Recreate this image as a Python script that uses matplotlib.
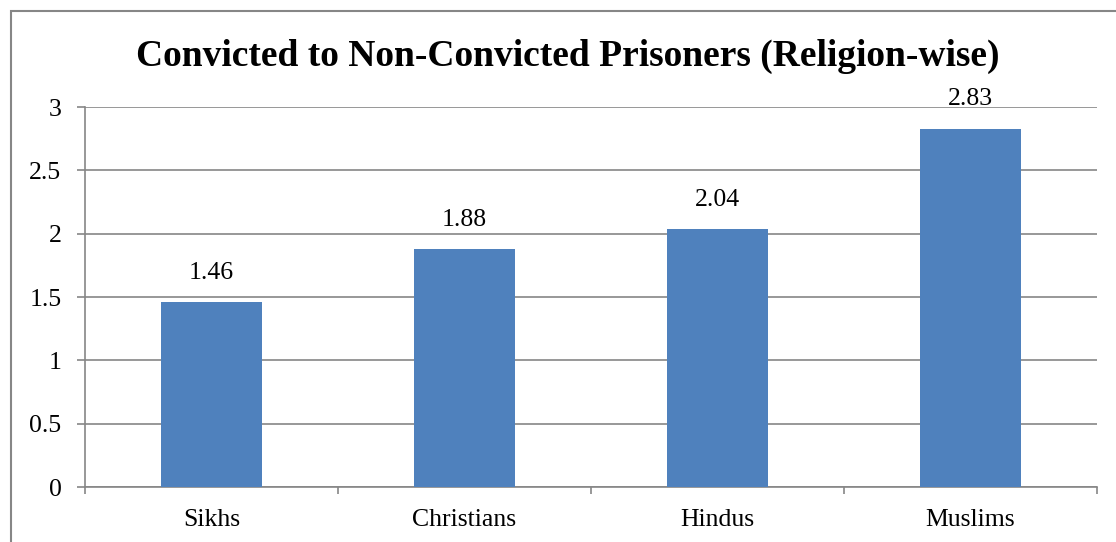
import matplotlib.pyplot as plt
from matplotlib.patches import Rectangle
import numpy as np

religions = ["Sikhs", "Christians", "Hindus", "Muslims"]
ratios = [1.46, 1.88, 2.04, 2.83]
y_ticks = [0, 0.5, 1, 1.5, 2, 2.5, 3]
y_tick_labels = ["0", "0.5", "1", "1.5", "2", "2.5", "3"]

plt.rcParams["font.family"] = ["Liberation Serif", "DejaVu Serif"]
grey = "#868686"

fig = plt.figure(figsize=(11.16, 5.42), dpi=100)
ax = fig.add_axes([85 / 1116, 1 - 487 / 542, (1097 - 85) / 1116, (487 - 107) / 542])

# chart border (runs off the right and bottom edges like the original)
fig.patches.append(Rectangle((11 / 1116, -0.1), 1.2, 1 - 11 / 542 + 0.1,
                             transform=fig.transFigure, fill=False,
                             edgecolor=grey, linewidth=1.5))

x = np.arange(len(religions))
bars = ax.bar(x, ratios, width=0.4, color="#4F81BD", zorder=3)

for xi, v in zip(x, ratios):
    ax.annotate(f"{v:.2f}", (xi, v), xytext=(0, 13), textcoords="offset points",
                ha="center", va="bottom", fontsize=18.5, zorder=4)

ax.set_xlim(-0.5, len(religions) - 0.5)
ax.set_ylim(0, 3)
ax.set_yticks(y_ticks)
ax.set_yticklabels(y_tick_labels)
ax.set_xticks(x)
ax.set_xticklabels(religions)
ax.set_xticks(np.arange(len(religions) + 1) - 0.5, minor=True)

ax.tick_params(axis="y", length=6, width=1.2, color=grey, labelsize=18.5, pad=11)
ax.tick_params(axis="x", which="major", length=0, labelsize=18.5, pad=16)
ax.tick_params(axis="x", which="minor", length=5, width=1.2, color=grey)

ax.grid(axis="y", color=grey, linewidth=1.2, zorder=0)
for side in ["top", "right"]:
    ax.spines[side].set_visible(False)
for side in ["left", "bottom"]:
    ax.spines[side].set_color(grey)
    ax.spines[side].set_linewidth(1.2)

fig.text(568 / 1116, 1 - 56 / 542, "Convicted to Non-Convicted Prisoners (Religion-wise)",
         ha="center", va="center", fontsize=27, fontweight="bold")

fig.savefig("out.png", dpi=100)
